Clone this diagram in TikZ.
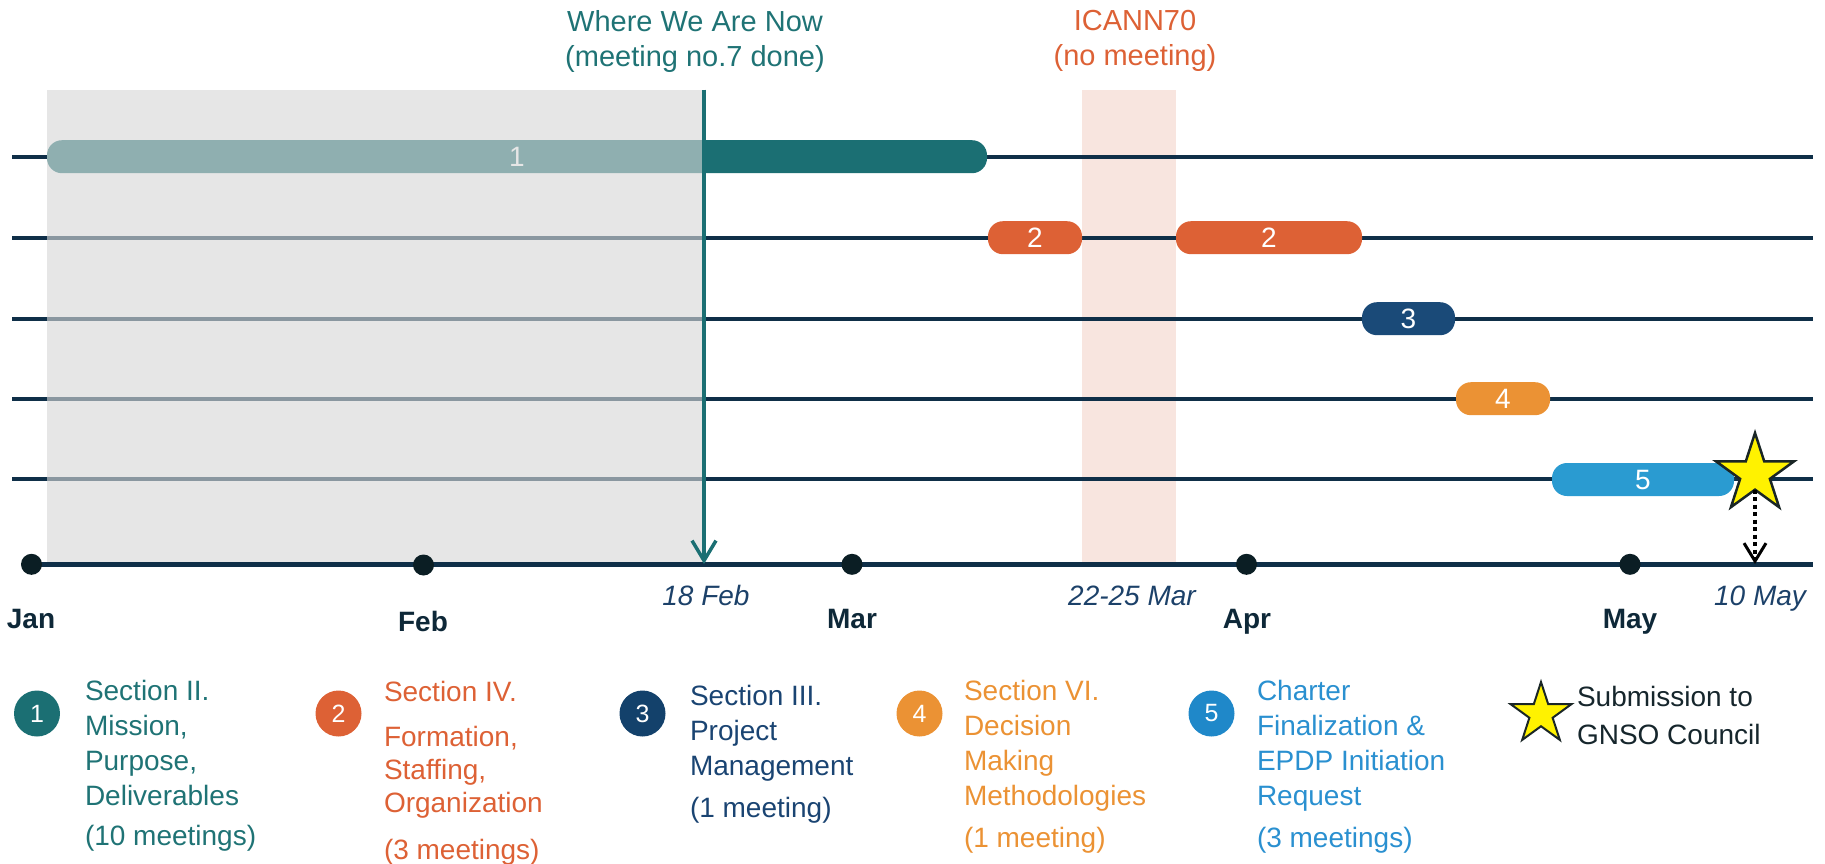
\documentclass[tikz,border=0pt]{standalone}
\usepackage{fontspec}
\setmainfont{Liberation Sans}
\usetikzlibrary{arrows.meta,shapes.geometric}
\definecolor{tealc}{HTML}{1B6F73}
\definecolor{tealtxt}{HTML}{1F7375}
\definecolor{orangec}{HTML}{DD6135}
\definecolor{navyc}{HTML}{1A4A78}
\definecolor{navyleg}{HTML}{13416B}
\definecolor{navytxt}{HTML}{1A4472}
\definecolor{amberc}{HTML}{EB9234}
\definecolor{bluec}{HTML}{2A9BD1}
\definecolor{blueleg}{HTML}{1F88C9}
\definecolor{bluetxt}{HTML}{2A90D0}
\definecolor{linec}{HTML}{0F2F48}
\definecolor{dotc}{HTML}{0B1E24}
\definecolor{monthc}{HTML}{0E2838}
\definecolor{datec}{HTML}{1C4169}
\definecolor{pinkc}{HTML}{F8E5DF}
\definecolor{boxgray}{RGB}{215,215,215}
\definecolor{blacktxt}{HTML}{16262C}
\definecolor{staredge}{HTML}{1A2626}
\begin{document}
\begin{tikzpicture}[x=1pt,y=-1pt,
  every node/.style={inner sep=0pt, outer sep=0pt},
  rowline/.style={line width=4pt, color=linec},
  bar/.style={rectangle, rounded corners=15pt, minimum height=33pt, text=white, font=\fontsize{28}{30}\selectfont},
  month/.style={anchor=base, text=monthc, font=\bfseries\fontsize{28}{30}\selectfont},
  datel/.style={anchor=base, text=datec, font=\itshape\fontsize{28}{30}\selectfont},
  mdot/.style={circle, fill=dotc, minimum size=21pt},
  legnum/.style={circle, minimum size=46pt, text=white, font=\fontsize{25}{27}\selectfont},
  legtext/.style={anchor=north west, align=left, font=\fontsize{28}{35}\selectfont},
  titletext/.style={anchor=north, align=center, font=\fontsize{29}{35}\selectfont},
  starshape/.style={star, star points=5, star point ratio=2.618, fill=yellow, draw=staredge, line width=2.5pt},
  nowarrow/.style={line width=3.5pt, color=tealc, -{Straight Barb[length=20pt,width=24pt,line width=3.5pt]}},
  subarrow/.style={line width=4pt, color=black, dash pattern=on 4pt off 3.5pt, -{Straight Barb[length=18pt,width=22pt,line width=3pt]}}
]
\useasboundingbox (0,0) rectangle (1825,863);
% ICANN70 band (behind lines)
\fill[pinkc] (1082,89.6) rectangle (1176,564);
% rows
\foreach \yy in {156.7,237.7,318.7,398.7,479.3}{
  \draw[rowline] (12,\yy) -- (1813,\yy);
}
% bars
\node[bar, fill=tealc, minimum width=940pt] (b1) at (517,156.7) {1};
\node[bar, fill=orangec, minimum width=94pt] (b2a) at (1035,237.7) {2};
\node[bar, fill=orangec, minimum width=186pt] (b2b) at (1269,237.7) {2};
\node[bar, fill=navyc, minimum width=93pt] (b3) at (1408.5,318.7) {3};
\node[bar, fill=amberc, minimum width=94pt] (b4) at (1503,398.7) {4};
\node[bar, fill=bluec, minimum width=182pt] (b5) at (1643,479.5) {5};
% past-period overlay
\fill[boxgray, fill opacity=0.62] (46.7,89.6) rectangle (704,564);
% axis
\draw[line width=5pt, color=linec] (31.5,564.3) -- (1813,564.3);
\node[mdot] (djan) at (31.5,564.3) {};
\node[mdot] (dfeb) at (423.5,565) {};
\node[mdot] (dmar) at (852,564.3) {};
\node[mdot] (dapr) at (1246.5,564.3) {};
\node[mdot] (dmay) at (1630,564.3) {};
% now arrow
\coordinate (nowtop) at (704,89.6);
\coordinate (nowbot) at (704,564);
\draw[nowarrow] (nowtop) -- (nowbot);
% submission star and arrow
\node[starshape, minimum size=82pt] (s10) at (1755,474) {};
\coordinate (maybot) at (1755,564);
\draw[subarrow] (s10.south) -- (maybot);
% titles
\node[titletext, text=tealtxt] (twhere) at (695,10) {Where We Are Now\\(meeting no.7 done)};
\node[titletext, text=orangec] (ticann) at (1135,10) {ICANN70\\(no meeting)};
% month labels
\node[month] (mjan) at (31,628) {Jan};
\node[month] (mfeb) at (423,631) {Feb};
\node[month] (mmar) at (852,628) {Mar};
\node[month] (mapr) at (1247,628) {Apr};
\node[month] (mmay) at (1630,628) {May};
% date labels
\node[datel] (d18) at (706,605) {18 Feb};
\node[datel] (d22) at (1132,605) {22-25 Mar};
\node[datel] (d10) at (1760,605) {10 May};
% legend
\node[legnum, fill=tealc] (l1) at (37,713.5) {1};
\node[legtext, text=tealtxt] (t1) at (85,680.5) {Section II.\\Mission,\\Purpose,\\Deliverables\\[5pt](10 meetings)};
\node[legnum, fill=orangec] (l2) at (338.5,713.5) {2};
\node[legtext, text=orangec] (t2) at (384,681.5) {Section IV.\\[10pt]Formation,\\[-2pt]Staffing,\\[-2pt]Organization\\[12pt](3 meetings)};
\node[legnum, fill=navyleg] (l3) at (642.5,713.5) {3};
\node[legtext, text=navytxt] (t3) at (690,685) {Section III.\\Project\\Management\\[7pt](1 meeting)};
\node[legnum, fill=amberc] (l4) at (919.5,713.5) {4};
\node[legtext, text=amberc] (t4) at (964,680) {Section VI.\\Decision\\Making\\Methodologies\\[7pt](1 meeting)};
\node[legnum, fill=blueleg] (l5) at (1211.5,713.5) {5};
\node[legtext, text=bluetxt] (t5) at (1257,680) {Charter\\Finalization \&\\EPDP Initiation\\Request\\[7pt](3 meetings)};
\node[starshape, minimum size=64pt, line width=2pt] (ls) at (1541,714) {};
\node[legtext, text=blacktxt, font=\fontsize{28}{38}\selectfont] (ts) at (1577,686.5) {Submission to\\GNSO Council};
\end{tikzpicture}
\end{document}
